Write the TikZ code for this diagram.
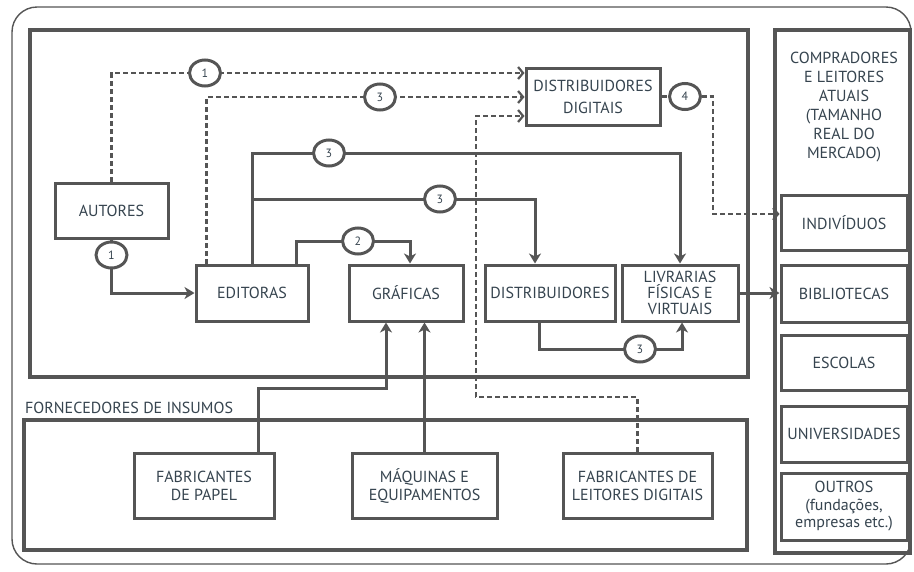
\documentclass[tikz,border=0pt]{standalone}
\usepackage{fontspec}
\setmainfont{PT Sans}
\usetikzlibrary{arrows.meta,shapes.geometric,calc}
\definecolor{lc}{HTML}{555555}
\definecolor{tc}{HTML}{36444F}
\tikzset{
  box/.style={draw=lc,line width=3pt,fill=white,align=center,text=tc,
    font=\fontsize{16}{17}\selectfont,inner sep=0pt},
  num/.style={ellipse,draw=lc,line width=3pt,fill=white,text=tc,
    minimum width=31pt,minimum height=26pt,inner sep=0pt,font=\fontsize{12}{12}\selectfont},
  frame/.style={draw=lc,line width=3.2pt},
  sol/.style={draw=lc,line width=3pt,-{Stealth[length=10pt,width=12pt,inset=3pt]}},
  dsh/.style={draw=lc,line width=2.2pt,dash pattern=on 5pt off 3pt,
    -{Straight Barb[length=5pt,width=12pt]}},
}
\begin{document}
\begin{tikzpicture}[x=1pt,y=-1pt]
\useasboundingbox (0,0) rectangle (914,571);
\fill[white] (0,0) rectangle (914,571);
% outer border
\draw[lc,line width=1.4pt,rounded corners=25pt] (12,7) rectangle (911,564);
% frames
\draw[frame] (30,30) rectangle (748,377);
\draw[frame] (24,420) rectangle (747,550);
\draw[frame] (775,30) rectangle (910,553);
\node[anchor=base west,text=tc,font=\fontsize{16}{16}\selectfont,inner sep=0pt] (forn) at (25,413) {FORNECEDORES DE INSUMOS};
% nodes
\node[box,minimum width=113pt,minimum height=55pt] (aut) at (111.5,210.5) {AUTORES};
\node[box,minimum width=112pt,minimum height=56pt] (edi) at (252,293) {EDITORAS};
\node[box,minimum width=114pt,minimum height=56pt] (gra) at (406,293) {GRÁFICAS};
\node[box,minimum width=130pt,minimum height=56pt] (dist) at (550,293) {DISTRIBUIDORES};
\node[box,minimum width=116pt,minimum height=56pt,font=\fontsize{16}{16}\selectfont] (liv) at (680,293) {LIVRARIAS\\FÍSICAS E\\VIRTUAIS};
\node[box,minimum width=134pt,minimum height=57pt,font=\fontsize{16}{22}\selectfont] (dd) at (593,96.5) {DISTRIBUIDORES\\DIGITAIS};
\node[align=center,text=tc,font=\fontsize{16}{19}\selectfont,inner sep=0pt] (comp) at (844,107) {COMPRADORES\\E LEITORES\\ATUAIS\\(TAMANHO\\REAL DO\\MERCADO)};
\node[box,minimum width=126pt,minimum height=55pt] (ind) at (844,222.5) {INDIVÍDUOS};
\node[box,minimum width=126pt,minimum height=57pt] (bib) at (844,293.5) {BIBLIOTECAS};
\node[box,minimum width=126pt,minimum height=55pt] (esc) at (844,362.5) {ESCOLAS};
\node[box,minimum width=126pt,minimum height=56pt] (uni) at (844,434) {UNIVERSIDADES};
\node[box,minimum width=126pt,minimum height=67pt,font=\fontsize{16}{17.5}\selectfont] (out) at (844,506.5) {OUTROS\\(fundações,\\empresas etc.)};
\node[box,minimum width=140pt,minimum height=65pt,font=\fontsize{16}{18}\selectfont] (fp) at (204,485.5) {FABRICANTES\\DE PAPEL};
\node[box,minimum width=145pt,minimum height=65pt,font=\fontsize{16}{18}\selectfont] (maq) at (424.5,485.5) {MÁQUINAS E\\EQUIPAMENTOS};
\node[box,minimum width=149pt,minimum height=65pt,font=\fontsize{16}{18}\selectfont] (fld) at (637.5,485.5) {FABRICANTES DE\\LEITORES DIGITAIS};
% connector coordinates
\coordinate (c1apos) at (205,73);
\coordinate (c3apos) at (380,97);
\coordinate (c4pos) at (685,96.5);
\coordinate (c3bpos) at (329,153);
\coordinate (c3cpos) at (440,199);
\coordinate (c2pos) at (358,241);
\coordinate (c1bpos) at (111.5,255);
\coordinate (c3dpos) at (640,349);
% dashed connectors
\draw[dsh] (aut.north) |- (dd.west |- c1apos);
\draw[dsh] ([xshift=12pt]edi.north west) |- (dd.west |- c3apos);
\draw[dsh] (fld.north) |- (476,397) |- (dd.west |- 0,116);
\draw[dsh] (dd.east) -- (713,96.5) |- (ind.west |- 0,214);
% solid connectors
\draw[sol] (edi.north) |- (c3bpos) -| (liv.north);
\draw[sol] (edi.north |- c3cpos) -| ([xshift=-15pt]dist.north);
\draw[sol] ([xshift=44pt]edi.north) |- (c2pos) -| ([xshift=4pt]gra.north);
\draw[sol] (aut.south) |- (edi.west);
\draw[sol] ([xshift=-11pt]dist.south) |- (c3dpos) -| ([xshift=2pt]liv.south);
\draw[sol] (liv.east) -- (bib.west |- liv.east);
\draw[sol] ([xshift=54pt]fp.north) |- (386,388) -- ([xshift=-20pt]gra.south);
\draw[sol] (maq.north) -- (maq.north |- gra.south);
% number circles
\node[num] (c1a) at (c1apos) {1};
\node[num] (c3a) at (c3apos) {3};
\node[num] (c4) at (c4pos) {4};
\node[num] (c3b) at (c3bpos) {3};
\node[num] (c3c) at (c3cpos) {3};
\node[num] (c2) at (c2pos) {2};
\node[num] (c1b) at (c1bpos) {1};
\node[num] (c3d) at (c3dpos) {3};
\end{tikzpicture}
\end{document}
